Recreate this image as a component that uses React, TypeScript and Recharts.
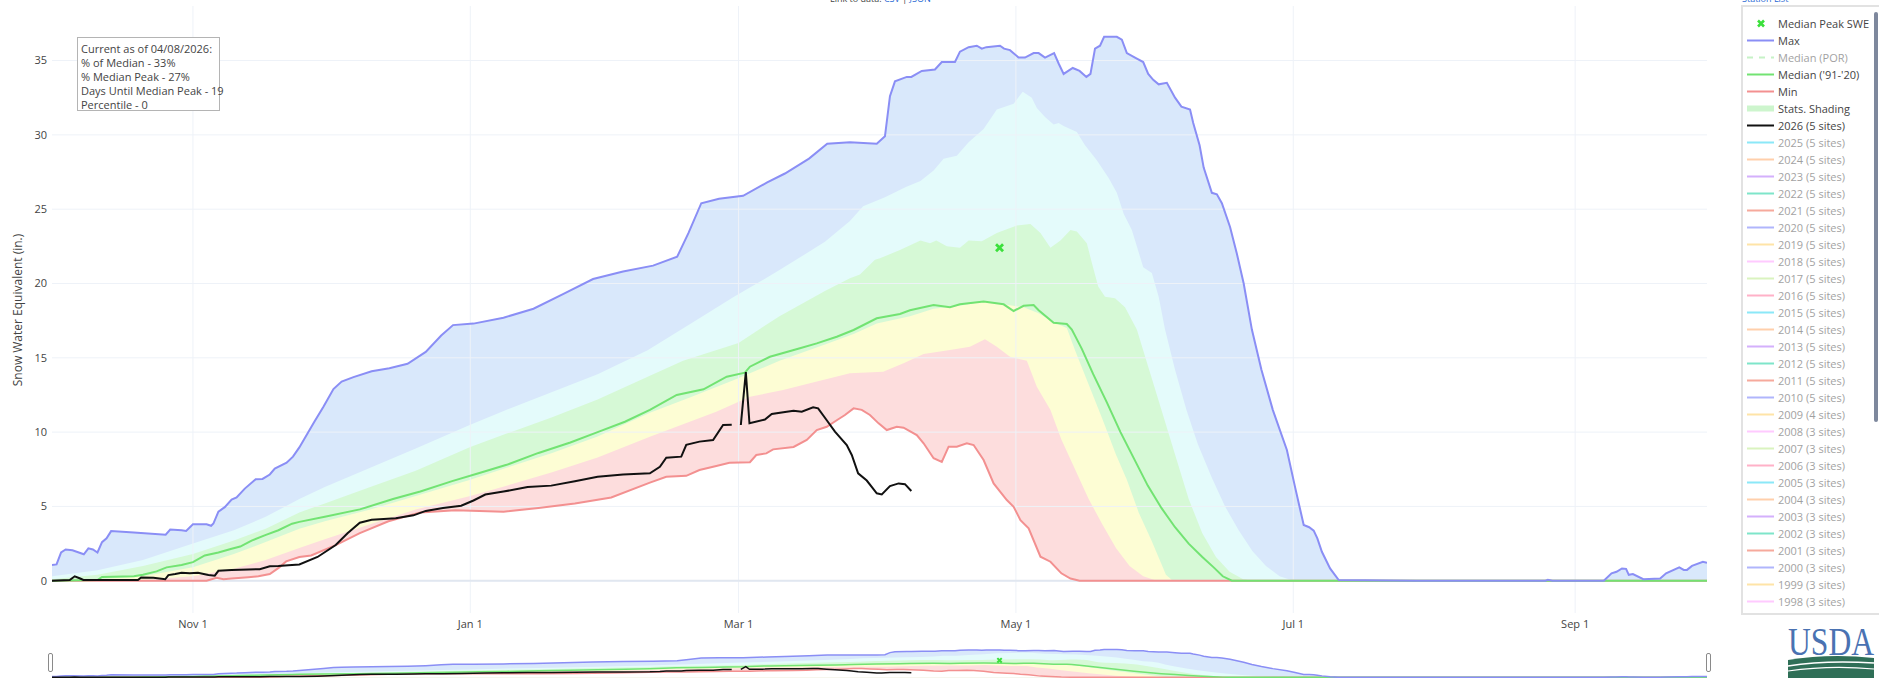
import React from 'react';
import {
  ComposedChart,
  Area,
  Line,
  Scatter,
  XAxis,
  YAxis,
  CartesianGrid,
  ReferenceLine,
} from 'recharts';

// day index: 0 = Oct 1, 364 = Sep 30
type Pt = [number, number | null];

const tickDays = [31, 92, 151, 212, 273, 335];
const tickLabels = ['Nov 1', 'Jan 1', 'Mar 1', 'May 1', 'Jul 1', 'Sep 1'];
const sweTicks = [0, 5, 10, 15, 20, 25, 30, 35];

const maxSwe: Pt[] = [
  [0, 1.06], [1, 1.1], [2, 1.9], [3, 2.1], [4.5, 2.05], [7, 1.78], [8, 2.18], [9, 2.1], [10, 1.9],
  [11, 2.6], [12, 2.85], [13, 3.34], [18, 3.25], [25, 3.1], [26, 3.45], [28.5, 3.4], [29.5, 3.35],
  [31, 3.8], [34, 3.8], [35, 3.7], [35.5, 3.85], [36.6, 4.65], [38, 4.95], [39.5, 5.46], [40.6, 5.6],
  [42.4, 6.2], [44.8, 6.83], [46.3, 6.85], [47.9, 7.15], [49, 7.55], [51.6, 7.94], [53, 8.35],
  [54.4, 8.97], [57.7, 10.7], [59.7, 11.7], [61.9, 12.9], [63.7, 13.4], [66.3, 13.7], [70.3, 14.1],
  [74.2, 14.3], [78.2, 14.6], [82.2, 15.4], [85.6, 16.5], [88.2, 17.2], [92.7, 17.3], [99.3, 17.7],
  [105.9, 18.3], [112.5, 19.3], [119, 20.3], [125.6, 20.8], [132.2, 21.2], [137.5, 21.8], [140, 23.4],
  [142.8, 25.4], [146.7, 25.7], [152, 25.9], [157.3, 26.8], [161.2, 27.4], [166.5, 28.4], [170.5, 29.4],
  [175.5, 29.5], [181.4, 29.4], [183.2, 29.9], [184.3, 32.6], [185.4, 33.6], [188, 33.9], [189, 33.9],
  [191.3, 34.3], [194.2, 34.4], [195.7, 34.9], [198.6, 34.9], [199.7, 35.6], [201.6, 35.9], [203.4, 36.0],
  [204.5, 35.8], [205.5, 35.9], [208.5, 36.0], [209.4, 35.8], [210.7, 35.7], [212.6, 35.2], [214, 35.2],
  [215.9, 35.5], [217, 35.5], [218.4, 35.2], [220.4, 35.5], [221.4, 34.8], [222.5, 34.1], [224.5, 34.5],
  [226, 34.3], [227.5, 33.9], [228.4, 34.1], [229.4, 35.8], [230.5, 36.0], [231.4, 36.6], [234.2, 36.6],
  [235.3, 36.4], [236.4, 35.5], [238.2, 35.2], [240, 34.9], [241.1, 34.1], [242.2, 33.7], [243.4, 33.4],
  [245.2, 33.5], [247, 32.5], [248.4, 31.9], [250.3, 31.7], [251, 30.8], [252.4, 29.3], [253.3, 27.8],
  [255.1, 26.1], [256.2, 26.0], [257.3, 25.4], [259.1, 23.8], [260.6, 22.0], [262.1, 20.0], [263.9, 16.9],
  [266, 14.2], [268.5, 11.5], [271.6, 8.8], [273.4, 6.3], [275.3, 3.75], [276.5, 3.6], [277.5, 3.37],
  [278.3, 2.85], [279.3, 1.95], [281.1, 0.83], [283, 0.05], [300, 0], [328.5, 0], [329, 0.07], [330, 0],
  [341.3, 0], [343, 0.5], [344.1, 0.6], [345.3, 0.83], [346.2, 0.8], [346.8, 0.4], [347.7, 0.45],
  [350, 0.1], [353.7, 0.15], [355, 0.5], [357.9, 0.9], [358.9, 0.73], [359.6, 0.73], [360.7, 1.0],
  [363.1, 1.28], [364, 1.2],
];

const p90Swe: Pt[] = [
  [0, 0.3], [10, 0.7], [20, 1.4], [31, 2.5], [40, 3.4], [47, 4.3], [54.4, 5.5], [60, 6.3], [70, 7.6],
  [80, 8.9], [92, 10.5], [100, 11.5], [110, 12.7], [120, 13.9], [131, 15.5], [140, 17.2], [150, 19.1],
  [160, 20.9], [170, 22.8], [175.5, 24.2], [178.4, 25.2], [183.2, 25.8], [187.8, 26.5], [191, 26.9],
  [193.9, 27.6], [196.1, 28.4], [199, 28.6], [201.6, 29.5], [204.9, 30.4], [207.8, 31.7], [211.5, 32.1],
  [213.5, 32.9], [215.5, 32.5], [216.6, 31.8], [218.4, 31.2], [220.3, 30.7], [221.4, 30.8], [222.5, 30.6],
  [225.4, 30.2], [227.2, 29.3], [229.8, 28.3], [232.4, 27.1], [234.2, 26.1], [235.7, 24.7], [237.5, 23.6],
  [238.6, 22.5], [240, 21.1], [241.9, 20.7], [243.4, 19.1], [244.8, 16.9], [247, 14.2], [249.5, 11.5],
  [252, 9.2], [255, 7.0], [258, 5.0], [261, 3.4], [264, 2.0], [267, 1.0], [270, 0.3], [273, 0], [364, 0],
];

const p70Swe: Pt[] = [
  [0, 0.1], [10, 0.4], [20, 1.0], [31, 1.8], [40, 2.7], [47, 3.5], [54.4, 4.6], [60, 5.2], [70, 6.3],
  [80, 7.4], [92, 9.0], [100, 9.9], [110, 11.0], [120, 12.2], [131.5, 13.8], [138.8, 14.8], [151, 16.0],
  [160, 17.8], [170, 19.5], [175.5, 20.35], [177.7, 20.6], [181, 21.6], [182.1, 21.7], [186.5, 22.25],
  [191, 22.9], [193.1, 22.7], [194.5, 22.9], [196.8, 22.5], [199.7, 22.4], [201.6, 22.9], [204.5, 22.85],
  [207.8, 23.4], [212.2, 23.9], [215.2, 24.0], [217.4, 23.4], [219.6, 22.4], [221.8, 22.9], [224, 23.6],
  [225.4, 23.5], [227.6, 22.7], [228.7, 21.4], [230.1, 19.8], [231.6, 19.1], [233.8, 19.0], [236, 18.4],
  [238.6, 16.9], [241, 14.5], [244, 11.5], [247, 8.5], [250, 5.5], [253, 3.2], [256, 1.6], [259, 0.6],
  [262, 0.1], [264, 0], [364, 0],
];

const p50Swe: Pt[] = [
  [0, 0], [10, 0.1], [20, 0.3], [31, 0.9], [40, 1.8], [47, 2.6], [54.4, 3.5], [60, 4.0], [70, 4.8],
  [80, 5.7], [92, 6.8], [100, 7.6], [110, 8.6], [120, 9.7], [131.5, 11.3], [140, 12.3], [150, 13.5],
  [160, 14.8], [170, 15.9], [176.3, 16.6], [181.4, 17.3], [188.7, 17.8], [193.9, 18.3], [199.7, 18.5],
  [204.9, 18.8], [209.3, 18.6], [213.7, 18.4], [217, 18.0], [220.3, 17.4], [223.2, 17.0], [225, 15.5],
  [228, 13.2], [231, 10.9], [234, 8.5], [236.4, 6.8], [239, 4.6], [241.7, 2.8], [243.5, 1.5], [245, 0.4],
  [246.5, 0], [364, 0],
];

const p30Swe: Pt[] = [
  [0, 0], [20, 0.05], [31, 0.3], [40, 0.8], [47, 1.4], [54.4, 2.2], [60, 2.8], [70, 3.8], [80, 4.8],
  [92, 5.7], [100, 6.4], [110, 7.3], [120, 8.3], [131.5, 9.69], [146.1, 11.37], [153.5, 12.38],
  [160.8, 12.83], [166.7, 13.28], [175.5, 13.96], [182.8, 14.06], [187.3, 14.63], [191.7, 15.26],
  [197.5, 15.53], [201.9, 15.75], [205.2, 16.24], [207.8, 15.75], [210.7, 15.07], [214.4, 14.8],
  [216.6, 13.06], [219.6, 11.49], [222, 9.5], [225, 7.5], [228, 5.5], [231, 3.8], [234, 2.2], [237, 1.0],
  [240, 0.3], [243, 0], [364, 0],
];

const minSwe: Pt[] = [
  [0, 0], [34, 0], [36.2, 0.2], [37.7, 0.1], [39.5, 0.15], [43.2, 0.24], [45.4, 0.3], [47.9, 0.45],
  [50, 0.9], [51.5, 1.3], [54.4, 1.6], [57, 1.7], [62.4, 2.4], [67.7, 3.2], [74, 4.0], [81, 4.6],
  [88.7, 4.75], [99.3, 4.65], [107, 4.9], [115, 5.2], [123, 5.6], [131.5, 6.6], [135.1, 7.0],
  [139.5, 7.06], [142.4, 7.45], [146.1, 7.72], [149, 7.94], [153.5, 7.98], [154.9, 8.46], [157.1, 8.57],
  [158.6, 8.84], [163.1, 9.0], [166, 9.47], [168.2, 10.14], [170.4, 10.36], [172.6, 10.8], [174.4, 11.15],
  [176.3, 11.6], [178.1, 11.5], [179.9, 11.15], [181.8, 10.59], [183.6, 10.14], [185.8, 10.36],
  [187.3, 10.3], [190.2, 9.8], [191.7, 9.25], [193.9, 8.24], [195.7, 8.0], [197.2, 9.02], [199, 9.02],
  [201.2, 9.25], [202.7, 9.13], [204.9, 8.12], [207.1, 6.55], [210, 5.43], [211.5, 4.98], [213, 4.08],
  [214.8, 3.53], [217.4, 1.62], [219.6, 1.28], [222, 0.5], [224, 0.15], [226, 0], [364, 0],
];

const medianSwe: Pt[] = [
  [0, 0], [10, 0.05], [11, 0.25], [18, 0.3], [20, 0.4], [23, 0.63], [25.2, 0.9], [28.5, 1.06], [31, 1.25],
  [33.6, 1.7], [36.6, 1.9], [39.5, 2.15], [41.4, 2.3], [43.9, 2.7], [46.9, 3.07], [49.8, 3.4], [52.8, 3.84],
  [54.4, 3.96], [60, 4.3], [67.7, 4.8], [75, 5.5], [81, 6.0], [88, 6.7], [94, 7.25], [100, 7.8], [107, 8.6],
  [114, 9.3], [120, 10.0], [126, 10.7], [131.5, 11.49], [137.4, 12.5], [143.3, 12.88], [148.4, 13.73],
  [152.4, 14.0], [153.5, 14.4], [157.9, 15.07], [164.5, 15.64], [168.2, 15.97], [172.6, 16.42],
  [176.3, 16.87], [181.4, 17.66], [186.5, 17.95], [188.7, 18.2], [193.9, 18.55], [197.5, 18.4],
  [199.7, 18.6], [204.9, 18.78], [209.3, 18.6], [211.5, 18.15], [213.7, 18.5], [215.9, 18.55], [217, 18.2],
  [220.3, 17.36], [223.2, 17.27], [224.3, 16.9], [226.5, 15.6], [229, 13.9], [232, 12.0], [235, 10.0],
  [238, 8.2], [241, 6.4], [244, 4.9], [247, 3.6], [250, 2.5], [253, 1.6], [255.5, 0.9], [257.5, 0.3],
  [259.5, 0], [364, 0],
];

const wy2026Swe: Pt[] = [
  [0, 0], [3.9, 0.05], [5, 0.3], [6.2, 0.15], [6.9, 0.05], [18.9, 0.05], [19.6, 0.22], [22.3, 0.2],
  [24.9, 0.1], [25.6, 0.38], [27.1, 0.45], [28.5, 0.54], [30.3, 0.5], [32.1, 0.54], [34.4, 0.38],
  [35.8, 0.34], [36.6, 0.67], [39.5, 0.72], [43.2, 0.76], [45.7, 0.78], [47.9, 0.98], [49.8, 1.0],
  [52, 1.05], [54.4, 1.1], [58.4, 1.6], [62.4, 2.4], [65, 3.2], [67.7, 3.9], [70.3, 4.1], [75.6, 4.2],
  [79.5, 4.4], [82.2, 4.7], [86, 4.9], [90, 5.05], [92.7, 5.4], [95.3, 5.8], [99.3, 6.0], [104.6, 6.3],
  [109.8, 6.4], [115, 6.7], [120, 7.0], [125.6, 7.15], [131.5, 7.23], [133.7, 7.67], [135.1, 8.28],
  [138.4, 8.35], [139.5, 9.14], [142.4, 9.36], [145.4, 9.47], [147.6, 10.48], [149.5, 10.5], [150, null],
  [151.5, 10.48], [152.6, 14.04], [153.4, 10.6], [156.8, 10.85], [158.3, 11.22], [161.6, 11.37],
  [163.1, 11.44], [164.9, 11.37], [167.4, 11.67], [168.5, 11.6], [170.4, 10.8], [172.2, 10.03],
  [174.8, 9.13], [175.9, 8.46], [177.3, 7.23], [179.2, 6.74], [181.4, 5.88], [182.5, 5.81], [184.3, 6.37],
  [186.2, 6.55], [187.6, 6.5], [189, 6.04],
];

const medianPeak: Pt[] = [[208.4, 22.4]];

const infoLines = [
  'Current as of 04/08/2026:',
  '% of Median - 33%',
  '% Median Peak - 27%',
  'Days Until Median Peak - 19',
  'Percentile - 0',
];

const legendYears = [
  2025, 2024, 2023, 2022, 2021, 2020, 2019, 2018, 2017, 2016, 2015, 2014, 2013, 2012,
  2011, 2010, 2009, 2008, 2007, 2006, 2005, 2004, 2003, 2002, 2001, 2000, 1999, 1998,
];
const legendSites = [
  5, 5, 5, 5, 5, 5, 5, 5, 5, 5, 5, 5, 5, 5, 5, 5, 4, 3, 3, 3, 3, 3, 3, 3, 3, 3, 3, 3,
];
const yearPalette = [
  '#19D3F3', '#FFA15A', '#AB63FA', '#00CC96', '#EF553B',
  '#636EFA', '#FECB52', '#FF97FF', '#B6E880', '#FF6692',
];

const C = {
  max: '#8a8ef5',
  median: '#72e372',
  min: '#f39090',
  y2026: '#111111',
  peak: '#3be03b',
  bandMax: '#d9e8fb',
  band90: '#e4fbfb',
  band70: '#d6f9d6',
  band50: '#fdfdd4',
  band30: '#fddddd',
  grid: '#eef2f8',
  text: '#444',
};

const FONT = '"Open Sans", verdana, arial, sans-serif';
const Y_DOMAIN: [number, number] = [-2.17, 38.67];
const X_DOMAIN: [number, number] = [0, 364];
const CHART_W = 1710;
const CHART_H = 640;

const rows = (pts: Pt[]) => pts.map(([d, v]) => ({ d, v }));

const XMark = (size: number, sw: number) => (props: any) => {
  const { cx, cy } = props;
  if (cx == null || cy == null) return <g />;
  return (
    <path
      d={`M${cx - size} ${cy - size}L${cx + size} ${cy + size}M${cx + size} ${cy - size}L${cx - size} ${cy + size}`}
      stroke={C.peak}
      strokeWidth={sw}
      fill="none"
    />
  );
};

function Bands({ w, h, margin }: { w: number; h: number; margin: any }) {
  return (
    <ComposedChart width={w} height={h} margin={margin}>
      <XAxis dataKey="d" type="number" domain={X_DOMAIN} allowDataOverflow hide />
      <YAxis type="number" domain={Y_DOMAIN} allowDataOverflow hide />
      <Area data={rows(maxSwe)} dataKey="v" type="linear" baseValue={0} stroke="none" fill={C.bandMax} fillOpacity={1} isAnimationActive={false} />
      <Area data={rows(p90Swe)} dataKey="v" type="linear" baseValue={0} stroke="none" fill={C.band90} fillOpacity={1} isAnimationActive={false} />
      <Area data={rows(p70Swe)} dataKey="v" type="linear" baseValue={0} stroke="none" fill={C.band70} fillOpacity={1} isAnimationActive={false} />
      <Area data={rows(p50Swe)} dataKey="v" type="linear" baseValue={0} stroke="none" fill={C.band50} fillOpacity={1} isAnimationActive={false} />
      <Area data={rows(p30Swe)} dataKey="v" type="linear" baseValue={0} stroke="none" fill={C.band30} fillOpacity={1} isAnimationActive={false} />
      <Area data={rows(minSwe)} dataKey="v" type="linear" baseValue={0} stroke="none" fill="#ffffff" fillOpacity={1} isAnimationActive={false} />
    </ComposedChart>
  );
}

function SeriesLines({ sw, mark }: { sw: number; mark: [number, number] }) {
  return (
    <>
      <Line data={rows(minSwe)} dataKey="v" type="linear" stroke={C.min} strokeWidth={sw} dot={false} isAnimationActive={false} />
      <Line data={rows(medianSwe)} dataKey="v" type="linear" stroke={C.median} strokeWidth={sw} dot={false} isAnimationActive={false} />
      <Line data={rows(maxSwe)} dataKey="v" type="linear" stroke={C.max} strokeWidth={sw} dot={false} isAnimationActive={false} />
      <Line data={rows(wy2026Swe)} dataKey="v" type="linear" stroke={C.y2026} strokeWidth={sw} dot={false} connectNulls={false} isAnimationActive={false} />
      <Scatter data={rows(medianPeak)} dataKey="v" shape={XMark(mark[0], mark[1])} isAnimationActive={false} />
    </>
  );
}

function Legend() {
  const items: { label: string; kind: string; color: string; hidden?: boolean }[] = [
    { label: 'Median Peak SWE', kind: 'x', color: C.peak },
    { label: 'Max', kind: 'line', color: C.max },
    { label: 'Median (POR)', kind: 'dash', color: '#8fe68f', hidden: true },
    { label: "Median ('91-'20)", kind: 'line', color: C.median },
    { label: 'Min', kind: 'line', color: C.min },
    { label: 'Stats. Shading', kind: 'band', color: '#cdf5cd' },
    { label: '2026 (5 sites)', kind: 'line', color: C.y2026 },
    ...legendYears.map((y, i) => ({
      label: `${y} (${legendSites[i]} sites)`,
      kind: 'line',
      color: yearPalette[i % yearPalette.length],
      hidden: true,
    })),
  ];
  return (
    <div style={{ position: 'absolute', left: 1741, top: 5, width: 150, height: 606, border: '2px solid #e2e2e2', background: '#fff', overflow: 'hidden' }}>
      {items.map((it, i) => (
        <div key={it.label} style={{ position: 'absolute', left: 0, top: 9 + i * 17, height: 16, width: 140, opacity: it.hidden ? 0.5 : 1 }}>
          <svg width={34} height={16} style={{ position: 'absolute', left: 0, top: 0 }}>
            {it.kind === 'x' && (
              <path d="M15 4.5L21 10.5M21 4.5L15 10.5" stroke={it.color} strokeWidth={2.6} />
            )}
            {it.kind === 'line' && <line x1={4} x2={31} y1={7.5} y2={7.5} stroke={it.color} strokeWidth={2} />}
            {it.kind === 'dash' && <line x1={4} x2={31} y1={7.5} y2={7.5} stroke={it.color} strokeWidth={2} strokeDasharray="6 6" />}
            {it.kind === 'band' && <rect x={4} y={4.5} width={27} height={6} fill={it.color} />}
          </svg>
          <div style={{ position: 'absolute', left: 35, top: 0, fontSize: 11, lineHeight: '15px', color: C.text, whiteSpace: 'nowrap', fontFamily: FONT }}>
            {it.label}
          </div>
        </div>
      ))}
      <div style={{ position: 'absolute', left: 131, top: 5, width: 4, height: 410, background: '#7e889d', borderRadius: 2 }} />
    </div>
  );
}

function UsdaLogo() {
  return (
    <svg width={92} height={54} style={{ position: 'absolute', left: 1785, top: 625 }}>
      <text x={3} y={30} fontFamily='"Liberation Serif", "DejaVu Serif", serif' fontSize={40} fill="#4a72b2" textLength={86} lengthAdjust="spacingAndGlyphs">
        USDA
      </text>
      <path d="M3 35 Q45 28 89 33 L89 54 L3 54 Z" fill="#2f6f57" />
      <path d="M3 41 Q40 35 89 38" stroke="#fff" strokeWidth={1.6} fill="none" />
      <path d="M3 46 Q45 40 89 44" stroke="#fff" strokeWidth={1.2} fill="none" />
    </svg>
  );
}

export default function App() {
  return (
    <div style={{ position: 'absolute', left: 0, top: 0, width: 1879, height: 678, overflow: 'hidden', background: '#fff', fontFamily: FONT }}>
      <div style={{ position: 'absolute', left: 830, top: -8, fontSize: 9, color: C.text, whiteSpace: 'nowrap' }}>
        Link to data: <span style={{ color: '#2a6ad4' }}>CSV</span> | <span style={{ color: '#2a6ad4' }}>JSON</span>
      </div>
      <div style={{ position: 'absolute', left: 1742, top: -8, fontSize: 9, color: '#2a6ad4', whiteSpace: 'nowrap' }}>
        Station List
      </div>

      {/* shaded percentile bands */}
      <div style={{ position: 'absolute', left: 0, top: 0 }}>
        <Bands w={CHART_W} h={CHART_H} margin={{ top: 6, right: 3, bottom: 27, left: 52 }} />
      </div>

      {/* grid, axes and lines on top */}
      <div style={{ position: 'absolute', left: 0, top: 0 }}>
        <ComposedChart width={CHART_W} height={CHART_H} margin={{ top: 6, right: 3, bottom: 0, left: 0 }}>
          <CartesianGrid stroke={C.grid} strokeWidth={1} horizontalValues={sweTicks} verticalValues={tickDays} />
          <XAxis
            dataKey="d"
            type="number"
            domain={X_DOMAIN}
            allowDataOverflow
            ticks={tickDays}
            tickFormatter={(v: number) => tickLabels[tickDays.indexOf(v)] ?? ''}
            height={27}
            axisLine={false}
            tickLine={false}
            tickSize={6}
            tickMargin={1}
            tick={{ fill: C.text, fontSize: 11, fontFamily: FONT }}
          />
          <YAxis
            type="number"
            domain={Y_DOMAIN}
            allowDataOverflow
            ticks={sweTicks}
            width={52}
            axisLine={false}
            tickLine={false}
            tickSize={3}
            tickMargin={2}
            tick={{ fill: C.text, fontSize: 11, fontFamily: FONT }}
          />
          <ReferenceLine y={0} stroke="#e1e7f0" strokeWidth={2} />
          {SeriesLines({ sw: 2, mark: [3.5, 2.8] })}
        </ComposedChart>
      </div>

      <div
        style={{
          position: 'absolute', left: 17, top: 310, transform: 'translate(-50%, -50%) rotate(-90deg)',
          fontSize: 12, color: C.text, whiteSpace: 'nowrap',
        }}
      >
        Snow Water Equivalent (in.)
      </div>

      <div
        style={{
          position: 'absolute', left: 77, top: 37, width: 143, height: 74, border: '1px solid #b4b4b4',
          background: '#fff', padding: '4px 0 0 3px', boxSizing: 'border-box',
        }}
      >
        {infoLines.map((t) => (
          <div key={t} style={{ fontSize: 11, lineHeight: '14px', color: C.text, whiteSpace: 'nowrap' }}>{t}</div>
        ))}
      </div>

      {/* range slider */}
      <div style={{ position: 'absolute', left: 0, top: 648 }}>
        <Bands w={CHART_W} h={31} margin={{ top: 0, right: 3, bottom: 0, left: 52 }} />
      </div>
      <div style={{ position: 'absolute', left: 0, top: 648 }}>
        <ComposedChart width={CHART_W} height={31} margin={{ top: 0, right: 3, bottom: 0, left: 52 }}>
          <XAxis dataKey="d" type="number" domain={X_DOMAIN} allowDataOverflow hide />
          <YAxis type="number" domain={Y_DOMAIN} allowDataOverflow hide />
          {SeriesLines({ sw: 1.5, mark: [2.2, 2] })}
        </ComposedChart>
      </div>
      <div style={{ position: 'absolute', left: 48, top: 653, width: 3, height: 17, border: '1px solid #8a8a8a', borderRadius: 2, background: '#fff' }} />
      <div style={{ position: 'absolute', left: 1706, top: 653, width: 3, height: 17, border: '1px solid #8a8a8a', borderRadius: 2, background: '#fff' }} />

      <Legend />
      <UsdaLogo />
    </div>
  );
}
